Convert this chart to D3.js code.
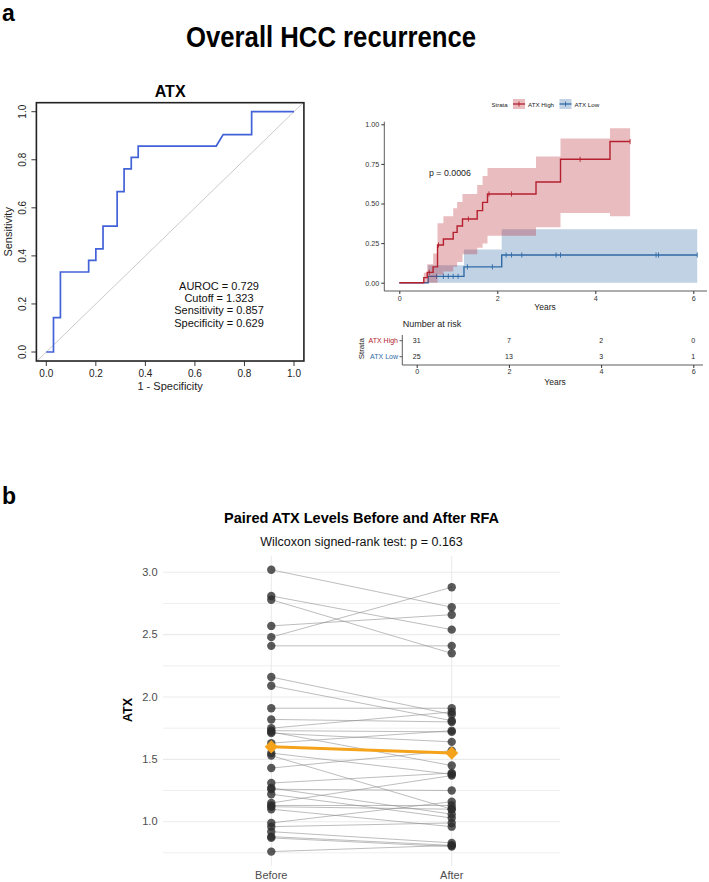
<!DOCTYPE html>
<html>
<head>
<meta charset="utf-8">
<script src="https://cdn.jsdelivr.net/npm/d3@7"></script>
<style>
  body { margin: 0; background: #fff; }
  text { font-family: "Liberation Sans", Arial, sans-serif; }
</style>
</head>
<body>
<svg id="fig"></svg>
<script>
// ---- data ----
// ROC curve (x = 1 - specificity, y = sensitivity)
const rocFpr = [0, 0.029, 0.029, 0.057, 0.057, 0.171, 0.171, 0.2, 0.2, 0.229, 0.229, 0.286, 0.286, 0.314, 0.314, 0.343, 0.343, 0.371, 0.371, 0.686, 0.714, 0.829, 0.829, 1.0];
const rocTpr = [0, 0, 0.143, 0.143, 0.333, 0.333, 0.381, 0.381, 0.429, 0.429, 0.524, 0.524, 0.667, 0.667, 0.762, 0.762, 0.81, 0.81, 0.857, 0.857, 0.905, 0.905, 1.0, 1.0];
const rocTicks = [0, 0.2, 0.4, 0.6, 0.8, 1.0];
const rocStats = ["AUROC = 0.729", "Cutoff = 1.323", "Sensitivity = 0.857", "Specificity = 0.629"];

// cumulative incidence curves
const highTime  = [0, 0.50, 0.57, 0.69, 0.78, 0.90, 1.10, 1.18, 1.29, 1.59, 1.70, 1.80, 2.79, 3.29, 4.30, 4.71];
const highEst   = [0, 0.032, 0.065, 0.10, 0.238, 0.276, 0.318, 0.358, 0.402, 0.455, 0.507, 0.56, 0.636, 0.779, 0.891, 0.891];
const highLower = [0, 0, 0, 0, 0.05, 0.07, 0.10, 0.13, 0.18, 0.22, 0.248, 0.297, 0.35, 0.44, 0.42, 0.42];
const highUpper = [0, 0.063, 0.116, 0.185, 0.375, 0.42, 0.47, 0.51, 0.56, 0.617, 0.674, 0.724, 0.796, 0.91, 0.975, 0.975];
const highCensor = [0.61, 0.80, 1.41, 1.83, 2.29, 3.69, 4.71];

const lowTime  = [0, 0.59, 1.32, 2.09, 6.08];
const lowEst   = [0, 0.04, 0.10, 0.175, 0.175];
const lowLower = [0, 0, 0, 0, 0];
const lowUpper = [0, 0.11, 0.21, 0.337, 0.337];
const lowCensor = [0.76, 0.90, 1.00, 1.10, 1.20, 1.39, 1.90, 2.18, 2.29, 2.50, 3.20, 3.29, 5.24, 5.29, 6.08];

const kmYTicks = [0, 0.25, 0.5, 0.75, 1.0];
const kmXTicks = [0, 2, 4, 6];
const strata = ["ATX High", "ATX Low"];
const riskHigh = [31, 7, 2, 0];
const riskLow  = [25, 13, 3, 1];

// paired ATX levels
const atxBefore = [3.02, 2.81, 2.78, 2.57, 2.48, 2.41, 2.16, 2.09, 1.91, 1.82, 1.75, 1.73, 1.72, 1.71, 1.63, 1.55, 1.53, 1.43,
                   1.31, 1.27, 1.26, 1.22, 1.15, 1.13, 1.12, 1.10, 0.99, 0.96, 0.92, 0.88, 0.87, 0.76];
const atxAfter  = [2.72, 2.54, 2.35, 2.66, 2.88, 2.41, 1.86, 1.81, 1.91, 1.80, 1.88, 1.72, 1.45, 1.64, 1.73, 1.38, 1.10, 1.57,
                   1.39, 1.06, 1.25, 1.03, 1.37, 1.13, 1.10, 0.96, 1.16, 0.99, 0.83, 0.81, 0.80, 0.81];
const meanBefore = 1.60;
const meanAfter = 1.55;
const timepoints = ["Before", "After"];
const atxTicks = [1.0, 1.5, 2.0, 2.5, 3.0];
const atxMinor = [0.75, 1.25, 1.75, 2.25, 2.75];

// ---- figure ----
const W = 709, H = 882;
const svg = d3.select("#fig").attr("width", W).attr("height", H);
svg.append("rect").attr("width", W).attr("height", H).attr("fill", "#fff");

svg.append("text").attr("x", 2).attr("y", 21).attr("font-size", 23).attr("font-weight", "bold").text("a");
svg.append("text").attr("x", 2).attr("y", 504).attr("font-size", 23).attr("font-weight", "bold").text("b");
// condensed bold title
svg.append("text").attr("x", 186).attr("y", 47)
  .attr("font-size", 29).attr("font-weight", "bold")
  .attr("textLength", 290).attr("lengthAdjust", "spacingAndGlyphs")
  .text("Overall HCC recurrence");

// ---- ROC panel ----
const rocX = d3.scaleLinear().domain([0, 1]).range([46.3, 294]);
const rocY = d3.scaleLinear().domain([0, 1]).range([352, 111.7]);
const roc = svg.append("g");
const rx0 = rocX(-0.04), rx1 = rocX(1.04), ry0 = rocY(-0.0375), ry1 = rocY(1.0375);

roc.append("clipPath").attr("id", "rocclip").append("rect")
  .attr("x", rx0).attr("y", ry1).attr("width", rx1 - rx0).attr("height", ry0 - ry1);
roc.append("line").attr("clip-path", "url(#rocclip)")
  .attr("x1", rocX(-0.05)).attr("y1", rocY(-0.05)).attr("x2", rocX(1.05)).attr("y2", rocY(1.05))
  .attr("stroke", "#c4c4c8").attr("stroke-width", 0.9);

roc.append("path")
  .attr("d", d3.line().x((d, i) => rocX(d)).y((d, i) => rocY(rocTpr[i]))(rocFpr))
  .attr("fill", "none").attr("stroke", "#4262d8").attr("stroke-width", 1.7);

roc.append("rect").attr("x", rx0).attr("y", ry1).attr("width", rx1 - rx0).attr("height", ry0 - ry1)
  .attr("fill", "none").attr("stroke", "#222").attr("stroke-width", 1.6);

rocTicks.forEach(t => {
  roc.append("line").attr("x1", rocX(t)).attr("x2", rocX(t)).attr("y1", ry0).attr("y2", ry0 + 5)
    .attr("stroke", "#222").attr("stroke-width", 0.9);
  roc.append("text").attr("x", rocX(t)).attr("y", 377).attr("text-anchor", "middle")
    .attr("font-size", 10).attr("fill", "#222").text(t.toFixed(1));
  roc.append("line").attr("x1", rx0).attr("x2", rx0 - 5).attr("y1", rocY(t)).attr("y2", rocY(t))
    .attr("stroke", "#222").attr("stroke-width", 0.9);
  roc.append("text").attr("transform", `translate(26,${rocY(t)}) rotate(-90)`).attr("text-anchor", "middle")
    .attr("font-size", 10).attr("fill", "#222").text(t.toFixed(1));
});
roc.append("text").attr("x", (rx0 + rx1) / 2).attr("y", 97).attr("text-anchor", "middle")
  .attr("font-size", 16).attr("font-weight", "bold").text("ATX");
roc.append("text").attr("x", (rx0 + rx1) / 2).attr("y", 390).attr("text-anchor", "middle")
  .attr("font-size", 11).attr("fill", "#222").text("1 - Specificity");
roc.append("text").attr("transform", `translate(12,${(ry0 + ry1) / 2}) rotate(-90)`).attr("text-anchor", "middle")
  .attr("font-size", 11).attr("fill", "#222").text("Sensitivity");
rocStats.forEach((s, i) => {
  roc.append("text").attr("x", 219).attr("y", 290 + i * 12.2).attr("text-anchor", "middle")
    .attr("font-size", 11).attr("fill", "#111").text(s);
});

// ---- cumulative incidence panel ----
const kmX = d3.scaleLinear().domain([0, 6]).range([399.3, 693.3]);
const kmY = d3.scaleLinear().domain([0, 1]).range([282.7, 124.3]);
const km = svg.append("g");
const redCol = "#b5202e", blueCol = "#2f6aa6";

function stepAt(times, vals, t) {
  const i = d3.bisectRight(times, t) - 1;
  return vals[Math.max(0, i)];
}
function drawCurve(times, est, lo, hi, censor, col) {
  const idx = d3.range(times.length);
  km.append("path")
    .attr("d", d3.area().curve(d3.curveStepAfter)
      .x(i => kmX(times[i])).y0(i => kmY(lo[i])).y1(i => kmY(hi[i]))(idx))
    .attr("fill", col).attr("fill-opacity", 0.3);
  km.append("path")
    .attr("d", d3.line().curve(d3.curveStepAfter).x(i => kmX(times[i])).y(i => kmY(est[i]))(idx))
    .attr("fill", "none").attr("stroke", col).attr("stroke-width", 1.4);
  censor.forEach(t => {
    const v = stepAt(times, est, t);
    km.append("line").attr("x1", kmX(t)).attr("x2", kmX(t))
      .attr("y1", kmY(v) - 2.6).attr("y2", kmY(v) + 2.6)
      .attr("stroke", col).attr("stroke-width", 0.9);
  });
}
drawCurve(lowTime, lowEst, lowLower, lowUpper, lowCensor, blueCol);
drawCurve(highTime, highEst, highLower, highUpper, highCensor, redCol);

km.append("line").attr("x1", 384.3).attr("x2", 384.3).attr("y1", 121.7).attr("y2", 291)
  .attr("stroke", "#333").attr("stroke-width", 0.8);
km.append("line").attr("x1", 384.3).attr("x2", 707).attr("y1", 291).attr("y2", 291)
  .attr("stroke", "#333").attr("stroke-width", 0.8);

const kmYAxis = km.append("g").attr("transform", "translate(384.3,0)")
  .call(d3.axisLeft(kmY).tickValues(kmYTicks).tickSize(3).tickPadding(2).tickFormat(d3.format(".2f")));
const kmXAxis = km.append("g").attr("transform", "translate(0,291)")
  .call(d3.axisBottom(kmX).tickValues(kmXTicks).tickSize(3).tickPadding(2).tickFormat(d3.format("d")));
[kmYAxis, kmXAxis].forEach(a => {
  a.select(".domain").remove();
  a.selectAll("line").attr("stroke", "#333");
  a.selectAll("text").attr("font-size", 7.2).attr("fill", "#333").style("font-family", "'Liberation Sans', Arial");
});
km.append("text").attr("x", 545).attr("y", 310).attr("text-anchor", "middle")
  .attr("font-size", 8.5).attr("fill", "#222").text("Years");
km.append("text").attr("x", 429).attr("y", 176).attr("font-size", 8.8).attr("fill", "#222").text("p = 0.0006");

// legend
km.append("text").attr("x", 491.5).attr("y", 106.5).attr("font-size", 6).attr("fill", "#222").text("Strata");
[[redCol, 513, "ATX High"], [blueCol, 559.5, "ATX Low"]].forEach(([c, x, lab]) => {
  km.append("rect").attr("x", x).attr("y", 99).attr("width", 12).attr("height", 10)
    .attr("fill", c).attr("fill-opacity", 0.3);
  km.append("line").attr("x1", x).attr("x2", x + 12).attr("y1", 104).attr("y2", 104)
    .attr("stroke", c).attr("stroke-width", 1.3);
  km.append("line").attr("x1", x + 6).attr("x2", x + 6).attr("y1", 101.5).attr("y2", 106.5)
    .attr("stroke", c).attr("stroke-width", 0.9);
  km.append("text").attr("x", x + 15).attr("y", 106.5).attr("font-size", 6.2).attr("fill", "#222").text(lab);
});

// number at risk table
const riskX = d3.scaleLinear().domain([0, 6]).range([416.7, 693.3]);
const riskY = d3.scalePoint().domain(strata).range([340.7, 356.7]);
const risk = svg.append("g");
risk.append("text").attr("x", 402.7).attr("y", 327).attr("font-size", 9).attr("fill", "#222").text("Number at risk");
risk.append("line").attr("x1", 402.3).attr("x2", 402.3).attr("y1", 335).attr("y2", 365).attr("stroke", "#333").attr("stroke-width", 0.8);
risk.append("line").attr("x1", 402.3).attr("x2", 703).attr("y1", 365).attr("y2", 365).attr("stroke", "#333").attr("stroke-width", 0.8);
[[strata[0], riskHigh, redCol], [strata[1], riskLow, blueCol]].forEach(([s, vals, c]) => {
  risk.append("line").attr("x1", 399.5).attr("x2", 402.3).attr("y1", riskY(s)).attr("y2", riskY(s)).attr("stroke", "#333").attr("stroke-width", 0.8);
  risk.append("text").attr("x", 398).attr("y", riskY(s) + 2.5).attr("text-anchor", "end")
    .attr("font-size", 7).attr("fill", c).text(s);
  vals.forEach((v, i) => {
    risk.append("text").attr("x", riskX(kmXTicks[i])).attr("y", riskY(s) + 2.5).attr("text-anchor", "middle")
      .attr("font-size", 7).attr("fill", "#222").text(v);
  });
});
const riskAxis = risk.append("g").attr("transform", "translate(0,365)")
  .call(d3.axisBottom(riskX).tickValues(kmXTicks).tickSize(3).tickPadding(1).tickFormat(d3.format("d")));
riskAxis.select(".domain").remove();
riskAxis.selectAll("line").attr("stroke", "#333");
riskAxis.selectAll("text").attr("font-size", 7.2).attr("fill", "#333").style("font-family", "'Liberation Sans', Arial");
risk.append("text").attr("x", 555).attr("y", 384.5).attr("text-anchor", "middle")
  .attr("font-size", 8.5).attr("fill", "#222").text("Years");
risk.append("text").attr("transform", "translate(364,348.7) rotate(-90)").attr("text-anchor", "middle")
  .attr("font-size", 8).attr("fill", "#222").text("Strata");

// ---- paired panel ----
const pbX = d3.scalePoint().domain(timepoints).range([163, 560]).padding(0.6);
const pbY = d3.scaleLinear().domain([0.647, 3.133]).range([865.7, 555.7]);
const pb = svg.append("g");
const gridCol = "#ebebeb";
atxMinor.forEach(v => pb.append("line").attr("x1", 163).attr("x2", 560).attr("y1", pbY(v)).attr("y2", pbY(v))
  .attr("stroke", gridCol).attr("stroke-width", 0.8));
atxTicks.forEach(v => pb.append("line").attr("x1", 163).attr("x2", 560).attr("y1", pbY(v)).attr("y2", pbY(v))
  .attr("stroke", gridCol).attr("stroke-width", 1.1));
timepoints.forEach(t => pb.append("line").attr("x1", pbX(t)).attr("x2", pbX(t)).attr("y1", 555.7).attr("y2", 865.7)
  .attr("stroke", gridCol).attr("stroke-width", 1.1));

atxTicks.forEach(v => pb.append("text").attr("x", 157.5).attr("y", pbY(v) + 3.8).attr("text-anchor", "end")
  .attr("font-size", 11).attr("fill", "#4d4d4d").text(v.toFixed(1)));
timepoints.forEach(t => pb.append("text").attr("x", pbX(t)).attr("y", 879).attr("text-anchor", "middle")
  .attr("font-size", 11).attr("fill", "#4d4d4d").text(t));
pb.append("text").attr("transform", "translate(132,710) rotate(-90)").attr("text-anchor", "middle")
  .attr("font-size", 12.5).attr("font-weight", "bold").text("ATX");
pb.append("text").attr("x", 361.5).attr("y", 523).attr("text-anchor", "middle")
  .attr("font-size", 14.5).attr("font-weight", "bold").text("Paired ATX Levels Before and After RFA");
pb.append("text").attr("x", 361.5).attr("y", 545.5).attr("text-anchor", "middle")
  .attr("font-size", 12.5).attr("fill", "#111").text("Wilcoxon signed-rank test: p = 0.163");

atxBefore.forEach((b, i) => {
  pb.append("line").attr("x1", pbX("Before")).attr("y1", pbY(b)).attr("x2", pbX("After")).attr("y2", pbY(atxAfter[i]))
    .attr("stroke", "#888").attr("stroke-opacity", 0.7).attr("stroke-width", 0.8);
});
atxBefore.forEach((b, i) => {
  pb.append("circle").attr("cx", pbX("Before")).attr("cy", pbY(b)).attr("r", 4.2)
    .attr("fill", "#2b2b2b").attr("fill-opacity", 0.78);
  pb.append("circle").attr("cx", pbX("After")).attr("cy", pbY(atxAfter[i])).attr("r", 4.2)
    .attr("fill", "#2b2b2b").attr("fill-opacity", 0.78);
});

const orange = "#f5a31a";
pb.append("line").attr("x1", pbX("Before")).attr("y1", pbY(meanBefore)).attr("x2", pbX("After")).attr("y2", pbY(meanAfter))
  .attr("stroke", orange).attr("stroke-width", 3);
[["Before", meanBefore], ["After", meanAfter]].forEach(([t, m]) => {
  pb.append("path").attr("transform", `translate(${pbX(t)},${pbY(m)})`)
    .attr("d", d3.symbol(d3.symbolDiamond2, 110)()).attr("fill", orange);
});
</script>
</body>
</html>
